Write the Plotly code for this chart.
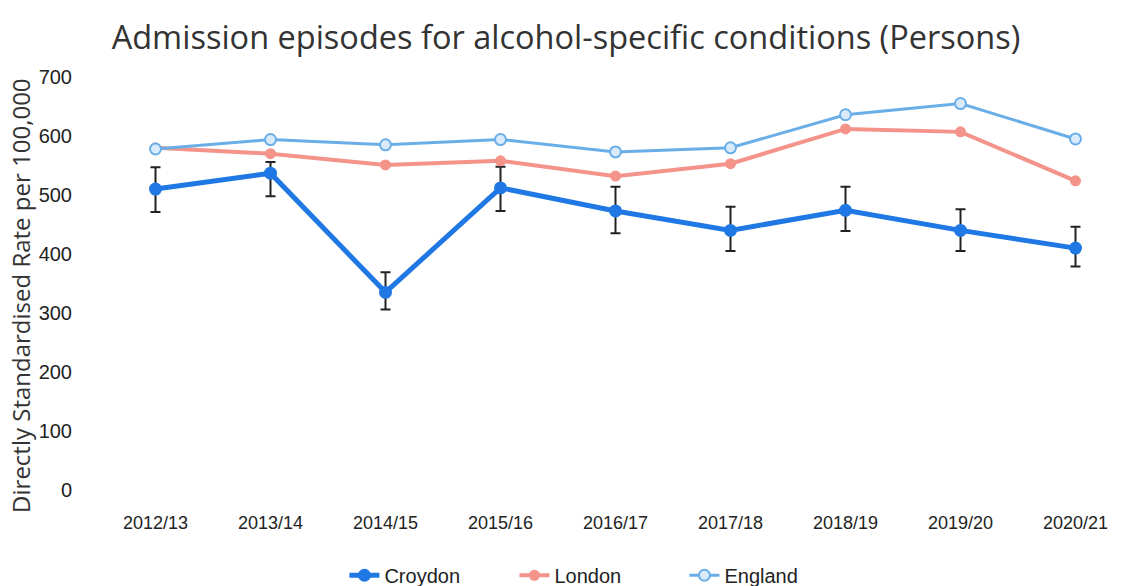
import plotly.graph_objects as go

years = ["2012/13", "2013/14", "2014/15", "2015/16", "2016/17", "2017/18", "2018/19", "2019/20", "2020/21"]
croydon = [510, 537, 335, 512, 473, 440, 474, 440, 410]
croydon_upper = [547, 556, 369, 548, 514, 480, 514, 476, 446]
croydon_lower = [471, 498, 306, 473, 435, 405, 439, 405, 379]
london = [580, 570, 551, 558, 532, 553, 612, 607, 524]
england = [578, 594, 585, 594, 573, 580, 636, 655, 595]

err_plus = [u - v for u, v in zip(croydon_upper, croydon)]
err_minus = [v - l for v, l in zip(croydon, croydon_lower)]

tick_font = dict(family="Liberation Sans", size=18, color="#222222")

fig = go.Figure()
fig.add_trace(go.Scatter(
    x=years, y=croydon, name="Croydon", mode="lines+markers",
    line=dict(color="#1f78e3", width=5),
    marker=dict(size=13, color="#1f78e3"),
    error_y=dict(type="data", symmetric=False, array=err_plus, arrayminus=err_minus,
                 color="#222222", thickness=2, width=5),
))
fig.add_trace(go.Scatter(
    x=years, y=london, name="London", mode="lines+markers",
    line=dict(color="#f3938a", width=4),
    marker=dict(size=11, color="#f3938a"),
))
fig.add_trace(go.Scatter(
    x=years, y=england, name="England", mode="lines+markers",
    line=dict(color="#6aaee8", width=3),
    marker=dict(size=11, color="#d9ebfa", line=dict(color="#6aaee8", width=2)),
))

fig.update_layout(
    width=1125, height=586,
    paper_bgcolor="white", plot_bgcolor="white",
    margin=dict(l=90, r=46, t=69, b=104),
    title=dict(text="Admission episodes for alcohol-specific conditions (Persons)",
               x=0.496, xanchor="center", y=0.949, yanchor="middle",
               font=dict(family="Open Sans", size=32.5, color="#333333")),
    showlegend=True,
    legend=dict(orientation="h", x=0.507, xanchor="center",
                yref="container", y=0.032, yanchor="middle",
                font=dict(family="Liberation Sans", size=20, color="#222222"),
                entrywidth=125),
    xaxis=dict(type="category", range=[-0.5, 8.1], showgrid=False, showline=False,
               zeroline=False, ticks="", ticklabelstandoff=20, automargin=False,
               tickangle=0, tickfont=tick_font),
    yaxis=dict(range=[0, 700], dtick=100, showgrid=False, showline=False, zeroline=False,
               ticks="", ticklabelstandoff=25, automargin=False,
               tickfont=dict(family="Liberation Sans", size=20, color="#222222")),
    annotations=[dict(text="Directly Standardised Rate per 100,000", textangle=-90,
                      xref="paper", yref="paper", x=0, y=0.47, xshift=-77,
                      xanchor="center", yanchor="middle", showarrow=False,
                      font=dict(family="Open Sans", size=24, color="#333333"))],
)

fig.write_html("out.html")
